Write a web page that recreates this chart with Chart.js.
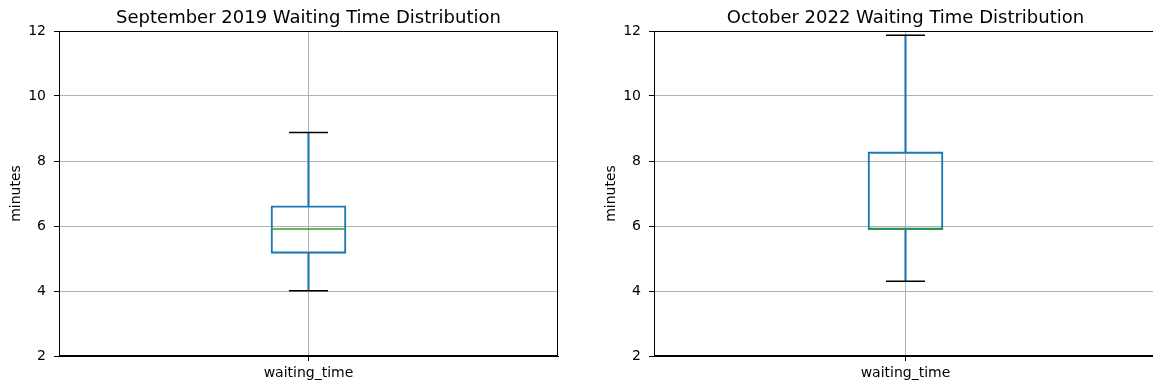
<!DOCTYPE html>
<html>
<head>
<meta charset="utf-8">
<script src="https://cdn.jsdelivr.net/npm/chart.js@4/dist/chart.umd.min.js"></script>
<style>
  html, body { margin: 0; padding: 0; background: #fff; }
  #wrap { position: relative; width: 1153px; height: 389px; overflow: hidden; }
  canvas { position: absolute; top: 0; }
  #c1 { left: 0; }
  #c2 { left: 595px; }
</style>
</head>
<body>
<div id="wrap">
  <canvas id="c1" width="580" height="389"></canvas>
  <canvas id="c2" width="562" height="389"></canvas>
</div>
<script>
// ---- data ----
const categories = ['waiting_time'];
const yTicks = [2, 4, 6, 8, 10, 12];
const titles = ['September 2019 Waiting Time Distribution', 'October 2022 Waiting Time Distribution'];
// [whisker low, Q1, median, Q3, whisker high]
const sep2019 = [4.01, 5.16, 5.91, 6.62, 8.88];
const oct2022 = [4.30, 5.89, 5.90, 8.28, 11.87];

const FONT = "'DejaVu Sans', sans-serif";
const BLUE = '#1f77b4', GREEN = '#2ca02c';

const frame = {
  id: 'frame',
  afterDraw(chart) {
    const a = chart.chartArea, ctx = chart.ctx;
    ctx.save();
    ctx.strokeStyle = '#000';
    ctx.lineWidth = 1;
    ctx.strokeRect(Math.round(a.left) + 0.5, Math.round(a.top) + 0.5,
                   Math.round(a.right - a.left) - 1, Math.round(a.bottom - a.top) - 1);
    ctx.restore();
  }
};

function zeroPad(sc) {
  sc.paddingTop = 0; sc.paddingBottom = 0; sc.paddingLeft = 0; sc.paddingRight = 0;
}

function makeChart(id, title, s, padRight) {
  const [lo, q1, med, q3, hi] = s;
  return new Chart(document.getElementById(id), {
    type: 'bar',
    data: {
      labels: categories,
      datasets: [
        { data: [[q1, q3]], backgroundColor: 'rgba(0,0,0,0)', borderColor: BLUE,
          borderWidth: 1.4, borderSkipped: false, barThickness: 75, grouped: false, order: 3 },
        { data: [[q3, hi]], backgroundColor: BLUE, borderWidth: 0,
          barThickness: 1.5, grouped: false, order: 4 },
        { data: [[lo, q1]], backgroundColor: BLUE, borderWidth: 0,
          barThickness: 1.5, grouped: false, order: 4 },
        { type: 'line', data: [hi], showLine: false, pointStyle: 'line', pointRadius: 19.5,
          pointBorderColor: '#000', pointBorderWidth: 1.5, order: 1 },
        { type: 'line', data: [lo], showLine: false, pointStyle: 'line', pointRadius: 19.5,
          pointBorderColor: '#000', pointBorderWidth: 1.5, order: 1 },
        { type: 'line', data: [med], showLine: false, pointStyle: 'line', pointRadius: 37.5,
          pointBorderColor: GREEN, pointBorderWidth: 1.5, order: 0 }
      ]
    },
    options: {
      responsive: false,
      animation: false,
      layout: { autoPadding: false, padding: { top: 0, right: padRight, bottom: 0, left: 0 } },
      plugins: {
        legend: { display: false },
        tooltip: { enabled: false },
        title: {
          display: true, text: title, color: '#000', fullSize: false,
          font: { family: FONT, size: 18, weight: 'normal', lineHeight: 1.2 },
          padding: { top: 8, bottom: 1.4 }
        }
      },
      scales: {
        x: {
          offset: true,
          grid: { offset: false, color: '#b0b0b0', lineWidth: 1, tickLength: 5, tickColor: '#000' },
          border: { display: true, color: '#000', width: 1 },
          ticks: { color: '#000', font: { family: FONT, size: 14 }, padding: 4, maxRotation: 0 },
          afterFit: (sc) => { sc.height = 33; zeroPad(sc); }
        },
        y: {
          min: yTicks[0], max: yTicks[yTicks.length - 1],
          afterBuildTicks: (sc) => { sc.ticks = yTicks.map(v => ({ value: v })); },
          grid: { color: '#b0b0b0', lineWidth: 1, tickLength: 5, tickColor: '#000' },
          border: { display: true, color: '#000', width: 1 },
          ticks: { color: '#000', font: { family: FONT, size: 14 }, padding: 8 },
          title: { display: true, text: 'minutes', color: '#000',
                   font: { family: FONT, size: 14 }, padding: { top: 8, bottom: 0 } },
          afterFit: (sc) => { sc.width = 59; zeroPad(sc); }
        }
      }
    },
    plugins: [frame]
  });
}

makeChart('c1', titles[0], sep2019, 22);
makeChart('c2', titles[1], oct2022, 0);
</script>
</body>
</html>
